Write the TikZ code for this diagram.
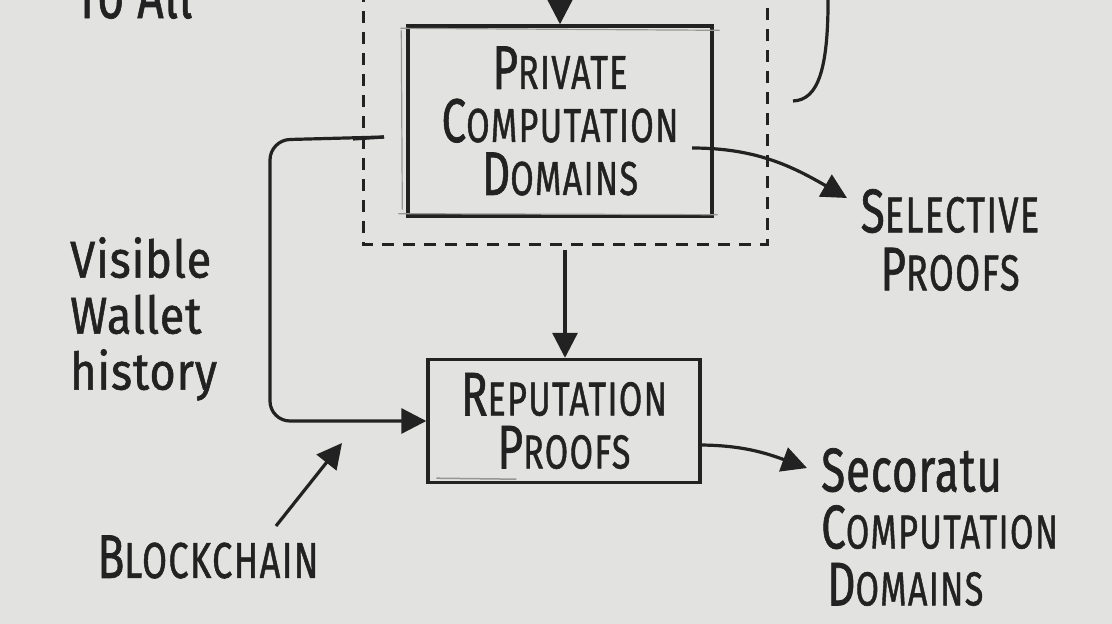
\documentclass[tikz,border=0pt]{standalone}
\usepackage{fontspec}
\setmainfont{Fira Sans}[FakeBold=1.2, LetterSpace=4]
\newfontfamily\handlow{Fira Sans}[FakeBold=1.2, LetterSpace=2]
\usetikzlibrary{arrows.meta}
\definecolor{paper}{RGB}{226,226,224}
\definecolor{ink}{RGB}{34,34,34}
\definecolor{pencil}{RGB}{150,150,148}
\newcommand{\hwcap}[2]{{\fontsize{44}{44}\selectfont #1}#2}
\newcommand{\tallx}[1]{\scalebox{1}[1.4]{#1}}
\tikzset{
  ink/.style={draw=ink, line width=3.2pt},
  box/.style={draw=ink, line width=3.4pt, inner sep=0pt, align=center, text=ink,
              font=\fontsize{34}{53}\selectfont},
  label/.style={inner sep=0pt, text=ink, font=\fontsize{34}{55}\selectfont},
  arr/.style={ink, -{Triangle[length=25pt,width=25pt]}},
  dashbox/.style={draw=ink, line width=3pt, dash pattern=on 12pt off 9pt}
}
\begin{document}
\begin{tikzpicture}[x=1pt,y=-1pt]
\useasboundingbox (0,0) rectangle (1112,624);
\clip (0,0) rectangle (1112,624);
\fill[paper] (0,0) rectangle (1112,624);

% top text
\node[label, anchor=south west, font=\handlow\fontsize{46}{46}\selectfont] (toall) at (75,19) {\tallx{To All}};

% dashed frame
\coordinate (dtl) at (363,-10);
\coordinate (dtr) at (767,-10);
\draw[dashbox] (dtl) |- (767,244) -- (dtr);

% boxes
\node[box, minimum width=304pt, minimum height=190pt] (priv) at (560,121)
  {\tallx{\hwcap{P}{RIVATE}}\\ \tallx{\hwcap{C}{OMPUTATION}}\\ \tallx{\hwcap{D}{OMAINS}}};
\draw[pencil, line width=1.2pt] ([xshift=-6pt,yshift=-4pt]priv.north west) -- ([xshift=6pt,yshift=-6pt]priv.north east);
\draw[pencil, line width=1.2pt] ([xshift=-8pt,yshift=4pt]priv.south west) -- ([xshift=4pt,yshift=3pt]priv.south east);
\draw[pencil, line width=1.2pt] ([xshift=-5pt,yshift=-6pt]priv.north west) -- ([xshift=-4pt,yshift=8pt]priv.south west);

\node[box, minimum width=272pt, minimum height=123pt] (rep) at (564,421)
  {\tallx{\hwcap{R}{EPUTATION}}\\ \tallx{\hwcap{P}{ROOFS}}};
\draw[pencil, line width=1.5pt] ([xshift=10pt,yshift=6pt]rep.south west) -- ([xshift=90pt,yshift=5pt]rep.south west);

% labels
\node[label, align=center, font=\fontsize{36}{58}\selectfont] (sel) at (950,240)
  {\tallx{\hwcap{S}{ELECTIVE}}\\ \tallx{\hwcap{P}{ROOFS}}};
\node[label, align=left, anchor=north west, font=\fontsize{34}{57}\selectfont] (sec) at (821,448)
  {\tallx{\handlow\fontsize{44}{44}\selectfont Secoratu}\\ \tallx{\hwcap{C}{OMPUTATION}}\\ \tallx{\hspace{6pt}\hwcap{D}{OMAINS}}};
\node[label, align=left, anchor=north west, font=\handlow\fontsize{45}{56}\selectfont] (vis) at (70,237)
  {\scalebox{1}[1.15]{Visible}\\ \scalebox{1}[1.15]{Wallet}\\ \scalebox{1}[1.15]{history}};
\node[label, font=\fontsize{36}{36}\selectfont] (bc) at (208,557) {\tallx{\hwcap{B}{LOCKCHAIN}}};

% connectors
\coordinate (topin) at (560,-10);
\draw[arr] (topin) -- (priv.north);
\coordinate (dbot) at (565,250);
\draw[arr] (dbot) -- (rep.north -| dbot);
\coordinate (tick) at (384,137);
\draw[ink] (353,139) -- (tick);
\draw[arr, rounded corners=20pt] (tick) -- (270,140) -- (270,421) -- (rep.west);
\coordinate (pout) at (692,148);
\coordinate (selin) at (847,198);
\draw[arr] (pout) to[out=0,in=150] (selin);
\coordinate (rout) at (698,445);
\coordinate (secin) at (807,468);
\draw[arr] (rout) to[out=0,in=160] (secin);
\coordinate (bcout) at (276,526);
\coordinate (bcin) at (342,443);
\draw[arr] (bcout) -- (bcin);
% top-right curve
\coordinate (ctop) at (828,-10);
\coordinate (cend) at (793,101);
\draw[ink] (ctop) .. controls (829,70) and (818,100) .. (cend);
\end{tikzpicture}
\end{document}
